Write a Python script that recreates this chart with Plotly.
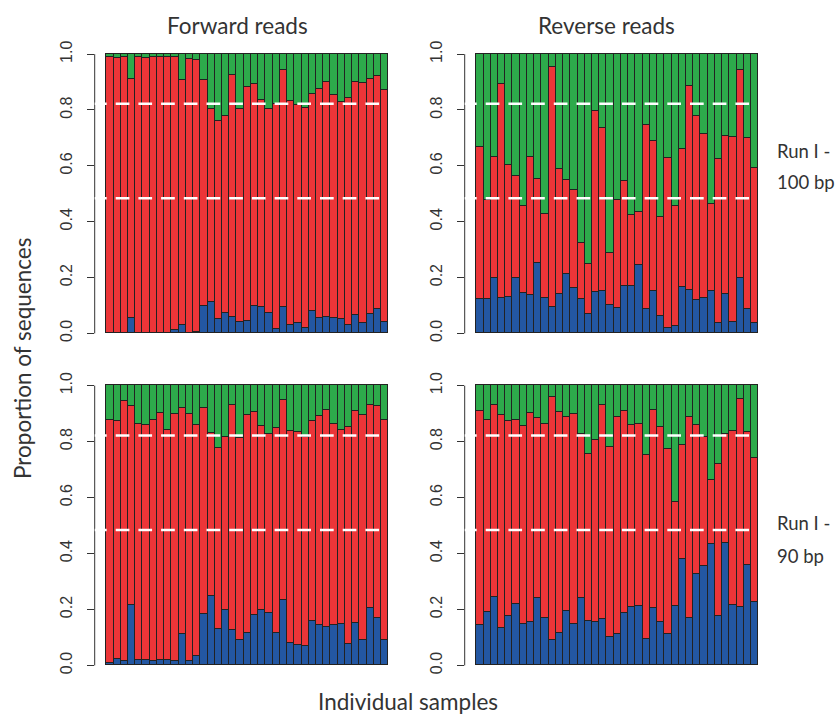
import plotly.graph_objects as go

samples = list(range(1, 40))

# Cumulative boundaries (top of blue segment, top of red segment)
fwd100_blue = [0, 0, 0, 0.056, 0, 0, 0, 0, 0, 0.011, 0.029, 0, 0.005, 0.098, 0.114, 0.05, 0.074, 0.06, 0.04, 0.043,
               0.098, 0.093, 0.074, 0.017, 0.093, 0.031, 0.036, 0.02, 0.08, 0.056, 0.06, 0.056, 0.05, 0.029, 0.067,
               0.038, 0.07, 0.089, 0.042]
fwd100_redtop = [0.99, 0.987, 0.99, 0.911, 0.99, 0.988, 0.99, 0.99, 0.99, 0.99, 0.907, 0.982, 0.979, 0.907, 0.804,
                 0.761, 0.78, 0.924, 0.804, 0.883, 0.893, 0.836, 0.804, 0.822, 0.943, 0.832, 0.818, 0.808, 0.857,
                 0.877, 0.9, 0.854, 0.83, 0.844, 0.899, 0.895, 0.911, 0.921, 0.871]

rev100_blue = [0.124, 0.124, 0.199, 0.127, 0.131, 0.199, 0.145, 0.136, 0.252, 0.127, 0.094, 0.142, 0.214, 0.161,
               0.124, 0.071, 0.148, 0.151, 0.101, 0.09, 0.171, 0.169, 0.244, 0.089, 0.151, 0.064, 0.019, 0.026,
               0.165, 0.157, 0.121, 0.125, 0.151, 0.038, 0.142, 0.04, 0.198, 0.088, 0.038]
rev100_redtop = [0.667, 0.479, 0.633, 0.892, 0.604, 0.562, 0.458, 0.63, 0.554, 0.429, 0.955, 0.589, 0.55, 0.512,
                 0.324, 0.25, 0.798, 0.735, 0.288, 0.479, 0.546, 0.425, 0.433, 0.748, 0.689, 0.418, 0.627, 0.457,
                 0.661, 0.886, 0.779, 0.714, 0.462, 0.624, 0.707, 0.705, 0.945, 0.701, 0.594]

fwd90_blue = [0.008, 0.023, 0.014, 0.215, 0.018, 0.018, 0.014, 0.018, 0.018, 0.014, 0.11, 0.014, 0.032, 0.183,
              0.246, 0.127, 0.196, 0.125, 0.089, 0.113, 0.177, 0.196, 0.185, 0.115, 0.231, 0.08, 0.07, 0.067,
              0.157, 0.143, 0.137, 0.143, 0.148, 0.074, 0.151, 0.089, 0.205, 0.169, 0.089]
fwd90_redtop = [0.877, 0.871, 0.943, 0.927, 0.862, 0.857, 0.877, 0.901, 0.839, 0.898, 0.919, 0.898, 0.857, 0.919,
                0.83, 0.776, 0.814, 0.931, 0.81, 0.893, 0.904, 0.854, 0.826, 0.848, 0.946, 0.836, 0.833, 0.814,
                0.871, 0.889, 0.91, 0.863, 0.839, 0.85, 0.907, 0.893, 0.931, 0.925, 0.877]

rev90_blue = [0.143, 0.189, 0.244, 0.133, 0.174, 0.217, 0.145, 0.153, 0.238, 0.169, 0.089, 0.115, 0.192, 0.145,
              0.24, 0.157, 0.153, 0.163, 0.101, 0.112, 0.187, 0.207, 0.211, 0.094, 0.205, 0.154, 0.112, 0.211,
              0.377, 0.169, 0.326, 0.354, 0.433, 0.175, 0.437, 0.214, 0.207, 0.356, 0.225]
rev90_redtop = [0.907, 0.877, 0.931, 0.893, 0.871, 0.877, 0.854, 0.901, 0.881, 0.86, 0.957, 0.905, 0.885, 0.896,
                0.825, 0.755, 0.804, 0.931, 0.779, 0.886, 0.907, 0.857, 0.86, 0.75, 0.911, 0.85, 0.773, 0.583,
                0.788, 0.887, 0.857, 0.814, 0.66, 0.72, 0.827, 0.838, 0.949, 0.833, 0.738]

reference_lines = [0.822, 0.484]
ytick_vals = [0, 0.2, 0.4, 0.6, 0.8, 1.0]
ytick_text = ["0.0", "0.2", "0.4", "0.6", "0.8", "1.0"]
col_titles = ["Forward reads", "Reverse reads"]
row_labels = [("Run I -", "100 bp"), ("Run I -", "90 bp")]

BLUE = "#2357A2"
RED = "#EC3538"
GREEN = "#2DAA4B"
EDGE = "#222222"
TXT = "#333333"

W, H = 835, 716

panels = [
    (fwd100_blue, fwd100_redtop, "x", "y"),
    (rev100_blue, rev100_redtop, "x2", "y2"),
    (fwd90_blue, fwd90_redtop, "x3", "y3"),
    (rev90_blue, rev90_redtop, "x4", "y4"),
]

fig = go.Figure()
for blue, redtop, xa, ya in panels:
    red = [r - b for b, r in zip(blue, redtop)]
    green = [1 - r for r in redtop]
    for vals, col in [(blue, BLUE), (red, RED), (green, GREEN)]:
        fig.add_trace(go.Bar(x=samples, y=vals, xaxis=xa, yaxis=ya, width=1,
                             marker=dict(color=col, line=dict(color=EDGE, width=1)),
                             showlegend=False, hoverinfo="skip"))

# pixel-based domains
def px_x(a, b):
    return [a / W, b / W]

def px_y(top, bottom):
    return [(H - bottom) / H, (H - top) / H]

xdom_left = px_x(94.7, 399.3)
xdom_right = px_x(464.7, 769.3)
ydom_top = px_y(41.1, 343.5)
ydom_bot = px_y(373.5, 676.5)

xr = [-1.06, 41.06]
yr = [-0.04, 1.04]

layout = dict(
    width=W, height=H, margin=dict(l=0, r=0, t=0, b=0),
    paper_bgcolor="white", plot_bgcolor="white",
    barmode="stack", bargap=0,
)
doms = [(xdom_left, ydom_top), (xdom_right, ydom_top), (xdom_left, ydom_bot), (xdom_right, ydom_bot)]
for i, (xd, yd) in enumerate(doms):
    s = "" if i == 0 else str(i + 1)
    layout["xaxis" + s] = dict(domain=xd, range=xr, visible=False, anchor="y" + s, fixedrange=True)
    layout["yaxis" + s] = dict(domain=yd, range=yr, anchor="x" + s, showgrid=False, zeroline=False,
                               showline=False, tickmode="array", tickvals=ytick_vals, ticktext=ytick_text,
                               ticks="outside", ticklen=7, tickwidth=1, tickcolor=TXT, tickangle=-90,
                               ticklabelstandoff=8,
                               tickfont=dict(family="Liberation Sans", size=16, color=TXT), fixedrange=True)
fig.update_layout(**layout)

shapes = []
for i in range(4):
    s = "" if i == 0 else str(i + 1)
    shapes.append(dict(type="line", xref="x" + s + " domain", yref="y" + s, x0=0, x1=0, y0=0, y1=1,
                       line=dict(color=TXT, width=1), layer="above"))
    for yv in reference_lines:
        shapes.append(dict(type="line", xref="x" + s, yref="y" + s, x0=-1.295, x1=xr[1], y0=yv, y1=yv,
                           line=dict(color="white", width=2.5, dash="13.7px,9px"), layer="above"))
fig.update_layout(shapes=shapes)

TF = "Lato"
TS = 22.5
RS = 18.5
ann = []
ann.append(dict(text=col_titles[0], x=238 / W, y=(H - 24) / H, xref="paper", yref="paper", showarrow=False,
                xanchor="center", yanchor="middle", font=dict(family=TF, size=TS, color=TXT)))
ann.append(dict(text=col_titles[1], x=606 / W, y=(H - 24) / H, xref="paper", yref="paper", showarrow=False,
                xanchor="center", yanchor="middle", font=dict(family=TF, size=TS, color=TXT)))
for (l1, l2), (y1, y2) in zip(row_labels, [(149, 181), (522, 556)]):
    ann.append(dict(text=l1, x=775 / W, y=(H - y1) / H, xref="paper", yref="paper", showarrow=False,
                    xanchor="left", yanchor="middle", font=dict(family=TF, size=RS, color=TXT)))
    ann.append(dict(text=l2, x=775 / W, y=(H - y2) / H, xref="paper", yref="paper", showarrow=False,
                    xanchor="left", yanchor="middle", font=dict(family=TF, size=RS, color=TXT)))
ann.append(dict(text="Proportion of sequences", x=22 / W, y=(H - 358) / H, xref="paper", yref="paper",
                showarrow=False, textangle=-90, xanchor="center", yanchor="middle",
                font=dict(family=TF, size=TS, color=TXT)))
ann.append(dict(text="Individual samples", x=408 / W, y=(H - 701) / H, xref="paper", yref="paper",
                showarrow=False, xanchor="center", yanchor="middle", font=dict(family=TF, size=TS, color=TXT)))
fig.update_layout(annotations=ann)

fig.write_html("out.html", config={"displayModeBar": False},
               post_script="document.body.style.margin='0';document.body.style.padding='0';"
                           "document.documentElement.style.overflow='hidden';")
